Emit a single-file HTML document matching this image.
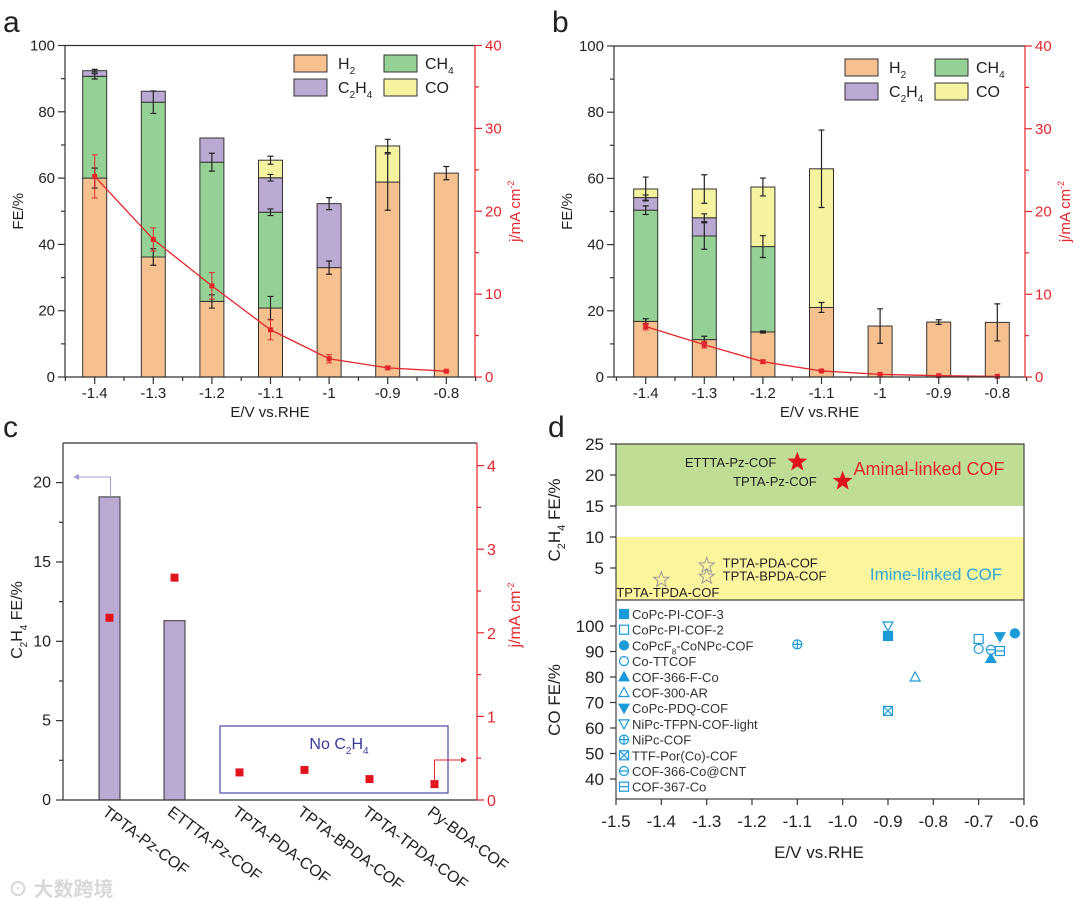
<!DOCTYPE html>
<html><head><meta charset="utf-8">
<style>
html,body{margin:0;padding:0;background:#fff;}
svg{display:block;font-family:"Liberation Sans","Noto Sans CJK SC",sans-serif;}
</style></head>
<body>
<svg id="chart" width="1080" height="911" viewBox="0 0 1080 911" xmlns="http://www.w3.org/2000/svg"></svg>
<script>
// ---------- Panel a data ----------
const aCats = ["-1.4","-1.3","-1.2","-1.1","-1","-0.9","-0.8"];
const aH2 = [60,36.2,22.8,20.8,33,58.8,61.5];
const aH2Err = [3,2.5,2,3.5,2,8.5,2];
const aCH4 = [30.7,46.7,42,28.9,0,0,0];
const aCH4Err = [0.8,3.4,2.7,1,0,0,0];
const aC2H4 = [1.7,3.3,7.3,10.4,19.3,0,0];
const aC2H4Err = [0.4,0,0,1,1.8,0,0];
const aCO = [0,0,0,5.3,0,10.9,0];
const aCOErr = [0,0,0,1.2,0,2,0];
const aJ = [24.2,16.6,11.0,5.7,2.2,1.1,0.7];
const aJErr = [2.6,1.4,1.6,1.2,0.5,0.2,0.1];
// ---------- Panel b data ----------
const bCats = ["-1.4","-1.3","-1.2","-1.1","-1","-0.9","-0.8"];
const bH2 = [16.8,11.3,13.6,21,15.4,16.6,16.5];
const bH2Err = [0.8,1,0.3,1.5,5.2,0.7,5.6];
const bCH4 = [33.6,31.3,25.8,0,0,0,0];
const bCH4Err = [1.3,4,3.3,0,0,0,0];
const bC2H4 = [3.8,5.5,0,0,0,0,0];
const bC2H4Err = [0.8,1.2,0,0,0,0,0];
const bCO = [2.6,8.7,18,41.9,0,0,0];
const bCOErr = [3.6,4.3,2.7,11.7,0,0,0];
const bJ = [6.1,3.9,1.85,0.73,0.32,0.16,0.08];
const bJErr = [0.4,0.4,0.2,0.1,0.05,0.03,0.02];
// ---------- Panel c data ----------
const cCats = ["TPTA-Pz-COF","ETTTA-Pz-COF","TPTA-PDA-COF","TPTA-BPDA-COF","TPTA-TPDA-COF","Py-BDA-COF"];
const cFE = [19.1,11.3,0,0,0,0];
const cJ = [2.18,2.66,0.33,0.36,0.25,0.19];
// ---------- Panel d data ----------
const dStarNames = ["ETTTA-Pz-COF","TPTA-Pz-COF","TPTA-PDA-COF","TPTA-BPDA-COF","TPTA-TPDA-COF"];
const dStarE = [-1.1,-1.0,-1.3,-1.3,-1.4];
const dStarFE = [22.1,19.0,5.4,3.6,3.1];
const dStarFilled = [true,true,false,false,false];
const dCoNames = ["CoPc-PI-COF-3","CoPc-PI-COF-2","CoPcF8-CoNPc-COF","Co-TTCOF","COF-366-F-Co","COF-300-AR","CoPc-PDQ-COF","NiPc-TFPN-COF-light","NiPc-COF","TTF-Por(Co)-COF","COF-366-Co@CNT","COF-367-Co"];
const dCoMarkers = ["sqF","sqO","ciF","ciO","trF","trO","tdF","tdO","ciPlus","sqX","ciMinus","sqMinus"];
const dCoE = [-0.9,-0.70,-0.62,-0.70,-0.673,-0.84,-0.653,-0.9,-1.1,-0.9,-0.673,-0.653];
const dCoFE = [96.1,94.9,97.1,91,87.3,80,95.8,100,92.8,66.7,90.7,90.2];
const dXTicks = ["-1.5","-1.4","-1.3","-1.2","-1.1","-1.0","-0.9","-0.8","-0.7","-0.6"];

const NS='http://www.w3.org/2000/svg';
const svg=document.getElementById('chart');
const RED='#e3262b';
const COL={H2:'#f6c18f',CH4:'#95d195',C2H4:'#baa9d2',CO:'#f6f3a0'};
const BLUE='#1b9ad8';
function mk(tag,attrs,parent){const e=document.createElementNS(NS,tag);for(const k in attrs)e.setAttribute(k,attrs[k]);(parent||svg).appendChild(e);return e;}
function txt(s,x,y,opts,parent){const e=mk('text',Object.assign({x:x,y:y,'font-size':15,fill:'#222'},opts||{}),parent);e.textContent=s;return e;}

function stackedPanel(P,name,cats,series,errs,jv,jerr,legendPos,letter){
  const g=mk('g',{});
  
  
  const y=v=>P.y0-v*(P.y0-P.y1)/100;
  const yj=v=>P.y0-v*(P.y0-P.y1)/40;
  const x=i=>P.c0+i*P.dx;
  const L=txt(letter,P.x0-62,32,{'font-size':30},g);
  
  
  const keys=['H2','CH4','C2H4','CO'];
  cats.forEach((c,i)=>{
    let base=0;
    keys.forEach((k,si)=>{
      const v=series[si][i];
      if(v<=0)return;
      const r=mk('rect',{x:x(i)-P.bw/2,y:y(base+v),width:P.bw,height:y(base)-y(base+v),fill:COL[k],stroke:'#333','stroke-width':1},g);
      
      
      base+=v;
    });
  });
  cats.forEach((c,i)=>{
    let base=0;
    keys.forEach((k,si)=>{
      const v=series[si][i];
      if(v<=0)return;
      base+=v;
      const e=errs[si][i];
      if(e>0){
        const p=mk('path',{d:`M${x(i)},${y(base-e)}V${y(base+e)}M${x(i)-3},${y(base-e)}h6M${x(i)-3},${y(base+e)}h6`,stroke:'#222','stroke-width':1.2,fill:'none'},g);
        
        
      }
    });
  });
  let d='';
  jv.forEach((v,i)=>{d+=(i?'L':'M')+x(i)+','+yj(v);});
  const line=mk('path',{d:d,stroke:RED,'stroke-width':1.3,fill:'none'},g);
  
  
  jv.forEach((v,i)=>{
    const e=jerr[i];
    const p=mk('path',{d:`M${x(i)},${yj(v-e)}V${yj(v+e)}M${x(i)-3},${yj(v-e)}h6M${x(i)-3},${yj(v+e)}h6`,stroke:RED,'stroke-width':1,fill:'none'},g);
    
    
    const m=mk('rect',{x:x(i)-2.5,y:yj(v)-2.5,width:5,height:5,fill:RED},g);
    
    
  });
  const ax=mk('path',{d:`M${P.x0},${P.y1}V${P.y0}H${P.x1}M${P.x0},${P.y1}H${P.x1}`,stroke:'#333','stroke-width':1.2,fill:'none'},g);
  
  
  const rax=mk('line',{x1:P.x1,y1:P.y1,x2:P.x1,y2:P.y0,stroke:RED,'stroke-width':1.2},g);
  
  
  for(let v=0;v<=100;v+=10){
    mk('line',{x1:P.x0-(v%20?4:7),x2:P.x0,y1:y(v),y2:y(v),stroke:'#333','stroke-width':1.2},g);
    if(v%20===0){const t=txt(String(v),P.x0-10,y(v)+5,{'text-anchor':'end'},g);}
  }
  for(let v=0;v<=40;v+=5){
    mk('line',{x1:P.x1,x2:P.x1+(v%10?4:7),y1:yj(v),y2:yj(v),stroke:RED,'stroke-width':1.2},g);
    if(v%10===0){const t=txt(String(v),P.x1+10,yj(v)+5,{fill:RED},g);}
  }
  cats.forEach((c,i)=>{
    mk('line',{x1:x(i),x2:x(i),y1:P.y0,y2:P.y0+7,stroke:'#333','stroke-width':1.2},g);
    mk('line',{x1:x(i)+P.dx/2,x2:x(i)+P.dx/2,y1:P.y0,y2:P.y0+4,stroke:'#333','stroke-width':1.2},g);
    const t=txt(c,x(i),P.y0+21,{'text-anchor':'middle'},g);
    
    
  });
  mk('line',{x1:x(0)-P.dx/2,x2:x(0)-P.dx/2,y1:P.y0,y2:P.y0+4,stroke:'#333','stroke-width':1.2},g);
  const xt=txt('E/V vs.RHE',(P.x0+P.x1)/2,P.y0+40,{'text-anchor':'middle'},g);
  
  
  const yt=txt('FE/%',0,0,{'text-anchor':'middle',transform:`translate(${P.x0-42},${(P.y0+P.y1)/2}) rotate(-90)`},g);
  
  
  const y2=mk('text',{'text-anchor':'middle','font-size':15,fill:RED,transform:`translate(${P.x1+45},${(P.y0+P.y1)/2}) rotate(-90)`},g);
  y2.innerHTML='j/mA cm<tspan dy="-6" font-size="9">-2</tspan>';
  
  
  const lg=mk('g',{},g);
  
  
  const items=[['H2',0,0,'H<tspan dy="5" font-size="10">2</tspan>'],['CH4',1,0,'CH<tspan dy="5" font-size="10">4</tspan>'],['C2H4',0,1,'C<tspan dy="5" font-size="10">2</tspan><tspan dy="-5">H</tspan><tspan dy="5" font-size="10">4</tspan>'],['CO',1,1,'CO']];
  items.forEach(it=>{
    const lx=legendPos[0]+it[1]*90, ly=legendPos[1]+it[2]*24;
    const r=mk('rect',{x:lx,y:ly,width:33,height:17,fill:COL[it[0]],stroke:'#333','stroke-width':1},lg);
    
    
    const t=mk('text',{x:lx+(it[0]==='CO'||it[0]==='CH4'?41:44),y:ly+14,'font-size':16,fill:'#222'},lg);
    t.innerHTML=it[3];
    
    
  });
}
stackedPanel({x0:65,x1:475,y0:377,y1:45.5,c0:94.7,dx:58.6,bw:24},'panel-a',aCats,[aH2,aCH4,aC2H4,aCO],[aH2Err,aCH4Err,aC2H4Err,aCOErr],aJ,aJErr,[294,55],'a');
stackedPanel({x0:614,x1:1025,y0:377,y1:46,c0:645.7,dx:58.6,bw:24},'panel-b',bCats,[bH2,bCH4,bC2H4,bCO],[bH2Err,bCH4Err,bC2H4Err,bCOErr],bJ,bJErr,[845,59],'b');

// ---------- panel c ----------
(function(){
  const g=mk('g',{});
  
  
  const P={x0:63,x1:477,y0:800,y1:443};
  const y=v=>P.y0-v*15.87;
  const yj=v=>P.y0-v*83.6;
  const x=i=>109.5+i*65;
  const L=txt('c',3,437,{'font-size':30},g);
  
  
  cFE.forEach((v,i)=>{
    if(v<=0)return;
    const r=mk('rect',{x:x(i)-10.5,y:y(v),width:21,height:y(0)-y(v),fill:COL.C2H4,stroke:'#333','stroke-width':1},g);
    
    
  });
  const box=mk('rect',{x:220,y:726,width:228,height:67,fill:'none',stroke:'#4a4aa8','stroke-width':1.2},g);
  
  
  const bt=mk('text',{x:339,y:749,'font-size':16,fill:'#3a3a9a','text-anchor':'middle'},g);
  bt.innerHTML='No C<tspan dy="5" font-size="10">2</tspan><tspan dy="-5">H</tspan><tspan dy="5" font-size="10">4</tspan>';
  
  
  cJ.forEach((v,i)=>{
    const m=mk('rect',{x:x(i)-4,y:yj(v)-4,width:8,height:8,fill:'#e0141c'},g);
    
    
  });
  const a1=mk('path',{d:`M${x(0)+1},${y(cFE[0])}V477H78`,stroke:'#a99ad0','stroke-width':1,fill:'none'},g);
  
  
  mk('path',{d:'M73,477l6,-3v6z',fill:'#a99ad0'},g);
  const a2=mk('path',{d:`M${x(5)},${yj(cJ[5])}V760H462`,stroke:RED,'stroke-width':1,fill:'none'},g);
  
  
  mk('path',{d:'M467,760l-6,-3v6z',fill:RED},g);
  const ax=mk('path',{d:`M${P.x0},${P.y1}V${P.y0}H${P.x1}M${P.x0},${P.y1}H${P.x1}`,stroke:'#333','stroke-width':1.2,fill:'none'},g);
  
  
  mk('line',{x1:P.x1,y1:P.y1,x2:P.x1,y2:P.y0,stroke:RED,'stroke-width':1.2},g);
  for(let v=0;v<=22;v+=2.5){
    mk('line',{x1:P.x0-(v%5?4:7),x2:P.x0,y1:y(v),y2:y(v),stroke:'#333','stroke-width':1.2},g);
    if(v%5===0){const t=txt(String(v),P.x0-12,y(v)+5,{'text-anchor':'end','font-size':16},g);}
  }
  for(let v=0;v<=4.1;v+=0.5){
    mk('line',{x1:P.x1,x2:P.x1+(v%1?4:7),y1:yj(v),y2:yj(v),stroke:RED,'stroke-width':1.2},g);
    if(v%1===0){const t=txt(String(v),P.x1+10,yj(v)+6,{fill:RED,'font-size':16},g);}
  }
  cCats.forEach((c,i)=>{
    const t=txt(c,0,0,{'font-size':16,transform:`translate(${x(i)-8},${P.y0+14}) rotate(37)`},g);
    
    
  });
  const yt=mk('text',{'text-anchor':'middle','font-size':16,fill:'#222',transform:`translate(22,620) rotate(-90)`},g);
  yt.innerHTML='C<tspan dy="5" font-size="10">2</tspan><tspan dy="-5">H</tspan><tspan dy="5" font-size="10">4</tspan><tspan dy="-5"> FE/%</tspan>';
  
  
  const y2=mk('text',{'text-anchor':'middle','font-size':16,fill:RED,transform:`translate(520,615) rotate(-90)`},g);
  y2.innerHTML='j/mA cm<tspan dy="-6" font-size="9">-2</tspan>';
  
  
  const wm=txt('⊙ 大数跨境',8,896,{'font-size':20,fill:'#d8d8d8','font-weight':'bold'},g);
  
  
})();

// ---------- panel d ----------
(function(){
  const g=mk('g',{});
  
  
  const X0=616,X1=1024,T=444,M=600,B=799;
  const x=v=>X0+(v+1.5)*453.3;
  const yt=v=>444+(25-v)*6.2;
  const yb=v=>626+(100-v)*2.55;
  const L=txt('d',548,437,{'font-size':30},g);
  
  
  const gr=mk('rect',{x:X0,y:yt(25),width:X1-X0,height:yt(15)-yt(25),fill:'#c0dd96'},g);
  
  
  const yr=mk('rect',{x:X0,y:yt(10),width:X1-X0,height:M-yt(10),fill:'#fbf59e'},g);
  
  
  const fr=mk('path',{d:`M${X0},${T}H${X1}V${B}H${X0}ZM${X0},${M}H${X1}`,stroke:'#444','stroke-width':1.2,fill:'none'},g);
  
  
  [5,10,15,20,25].forEach(v=>{
    mk('line',{x1:X0-6,x2:X0,y1:yt(v),y2:yt(v),stroke:'#333','stroke-width':1.2},g);
    const t=txt(String(v),X0-12,yt(v)+6,{'text-anchor':'end','font-size':17},g);
    
    
  });
  [40,50,60,70,80,90,100].forEach(v=>{
    mk('line',{x1:X0-6,x2:X0,y1:yb(v),y2:yb(v),stroke:'#333','stroke-width':1.2},g);
    const t=txt(String(v),X0-12,yb(v)+6,{'text-anchor':'end','font-size':17},g);
    
    
  });
  dXTicks.forEach(s=>{
    const v=parseFloat(s);
    mk('line',{x1:x(v),x2:x(v),y1:B,y2:B+6,stroke:'#333','stroke-width':1.2},g);
    const t=txt(s,x(v),B+28,{'text-anchor':'middle','font-size':17},g);
    
    
  });
  const xt=txt('E/V vs.RHE',819,858,{'text-anchor':'middle','font-size':17},g);
  
  
  const t1=mk('text',{'text-anchor':'middle','font-size':17,fill:'#222',transform:`translate(560,520) rotate(-90)`},g);
  t1.innerHTML='C<tspan dy="5" font-size="11">2</tspan><tspan dy="-5">H</tspan><tspan dy="5" font-size="11">4</tspan><tspan dy="-5"> FE/%</tspan>';
  
  
  const t2=txt('CO FE/%',0,0,{'text-anchor':'middle','font-size':17,transform:`translate(560,700) rotate(-90)`},g);
  
  
  const am=txt('Aminal-linked COF',929,475,{'text-anchor':'middle','font-size':18,fill:RED},g);
  
  
  const im=txt('Imine-linked COF',936,580,{'text-anchor':'middle','font-size':17,fill:'#2aa9d8'},g);
  
  
  function star(cx,cy,r,filled){
    let d='';
    for(let k=0;k<10;k++){const rr=k%2?r*0.42:r;const a=-Math.PI/2+k*Math.PI/5;d+=(k?'L':'M')+(cx+rr*Math.cos(a)).toFixed(1)+','+(cy+rr*Math.sin(a)).toFixed(1);}
    return mk('path',{d:d+'Z',fill:filled?'#e0141c':'none',stroke:filled?'#e0141c':'#999','stroke-width':1},g);
  }
  const labelPos=[['end',-21,5],['end',-26,5],['start',16,2],['start',16,4],['start',-45,17]];
  dStarNames.forEach((n,i)=>{
    const s=star(x(dStarE[i]),yt(dStarFE[i]),dStarFilled[i]?9:8,dStarFilled[i]);
    
    
    const lp=labelPos[i];
    const t=txt(n,x(dStarE[i])+lp[1],yt(dStarFE[i])+lp[2],{'text-anchor':lp[0],'font-size':13},g);
    
    
  });
  function marker(type,cx,cy){
    const s=4.5;const mg=mk('g',{},g);
    const st={stroke:BLUE,'stroke-width':1.2};
    if(type[0]=='s'&&type[1]=='q'){
      mk('rect',Object.assign({x:cx-s,y:cy-s,width:2*s,height:2*s,fill:type==='sqF'?BLUE:'#fff'},st),mg);
      if(type==='sqX')mk('path',Object.assign({d:`M${cx-s},${cy-s}L${cx+s},${cy+s}M${cx+s},${cy-s}L${cx-s},${cy+s}`},st),mg);
      if(type==='sqMinus')mk('path',Object.assign({d:`M${cx-s},${cy}H${cx+s}`},st),mg);
    } else if(type.startsWith('ci')){
      mk('circle',Object.assign({cx:cx,cy:cy,r:s,fill:type==='ciF'?BLUE:'#fff'},st),mg);
      if(type==='ciPlus')mk('path',Object.assign({d:`M${cx-s},${cy}H${cx+s}M${cx},${cy-s}V${cy+s}`},st),mg);
      if(type==='ciMinus')mk('path',Object.assign({d:`M${cx-s},${cy}H${cx+s}`},st),mg);
    } else if(type.startsWith('tr')){
      mk('path',Object.assign({d:`M${cx},${cy-s-0.5}L${cx+s+0.5},${cy+s-0.5}H${cx-s-0.5}Z`,fill:type==='trF'?BLUE:'#fff'},st),mg);
    } else {
      mk('path',Object.assign({d:`M${cx},${cy+s+0.5}L${cx+s+0.5},${cy-s+0.5}H${cx-s-0.5}Z`,fill:type==='tdF'?BLUE:'#fff'},st),mg);
    }
    return mg;
  }
  dCoNames.forEach((n,i)=>{
    const m=marker(dCoMarkers[i],x(dCoE[i]),yb(dCoFE[i]));
    
    
    const lm=marker(dCoMarkers[i],624,614+i*15.7);
    
    
    const t=mk('text',{x:632,y:619+i*15.7,'font-size':13,fill:'#333'},g);
    if(n==='CoPcF8-CoNPc-COF')t.innerHTML='CoPcF<tspan dy="4" font-size="8">8</tspan><tspan dy="-4">-CoNPc-COF</tspan>';
    else t.textContent=n;
    
    
  });
})();
</script>
</body></html>
